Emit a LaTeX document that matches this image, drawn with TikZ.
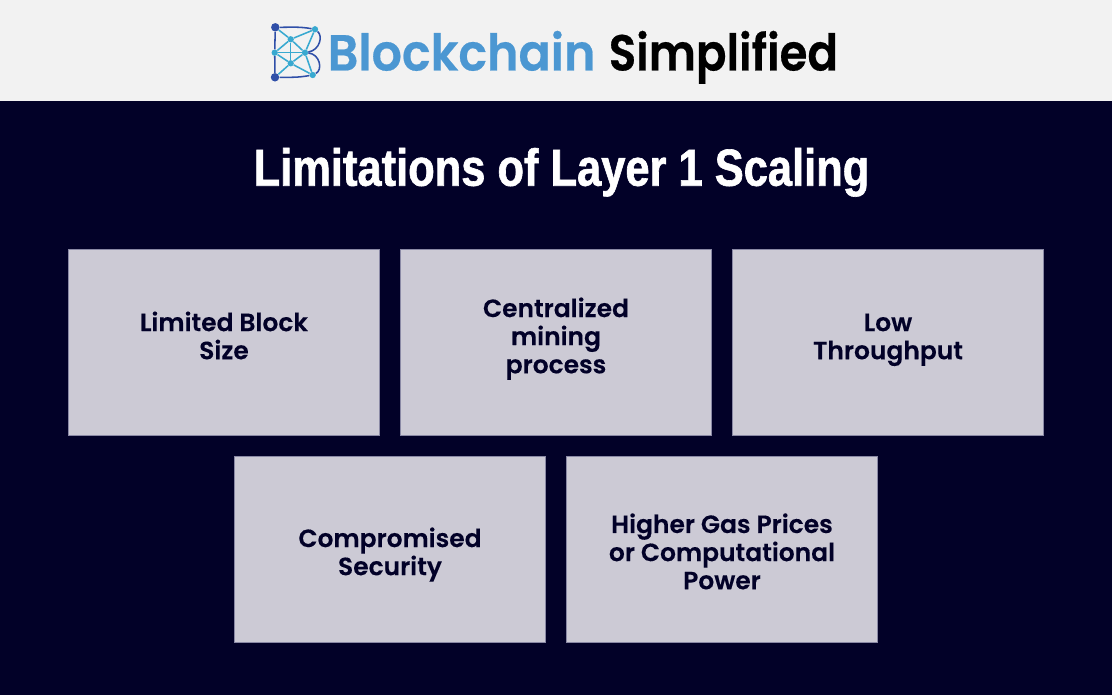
\documentclass[tikz,border=0pt]{standalone}
\usepackage{fontspec}
\setmainfont[FakeBold=0.25]{Poppins SemiBold}
\newfontfamily\brandfont[FakeStretch=0.94, FakeBold=0.4]{Poppins SemiBold}
\newfontfamily\simplefont[FakeStretch=0.89, FakeBold=0.4]{Poppins SemiBold}
\newfontfamily\headfont[FakeStretch=0.835, BoldFeatures={FakeBold=1.2}]{Liberation Sans}
\usetikzlibrary{positioning}
\definecolor{bgnavy}{HTML}{020128}
\definecolor{headgray}{HTML}{F2F2F2}
\definecolor{boxgray}{HTML}{CCCAD5}
\definecolor{boxedge}{HTML}{8A89A5}
\definecolor{logoblue}{HTML}{4B97D2}
\definecolor{logodark}{HTML}{2F4FA8}
\definecolor{logolight}{HTML}{38A9D0}
\newcommand{\rowonetop}{\rule{0pt}{14pt}}
\newcommand{\rowtwotop}{\rule{0pt}{22.5pt}}
\tikzset{
  infobox/.style={draw=boxedge, line width=0.4pt, fill=boxgray, minimum width=7.78cm, minimum height=4.66cm,
    align=center, text=bgnavy, font=\fontsize{17.75}{20}\selectfont, inner sep=0pt},
  rowone/.style={infobox, execute at end node=\rule[-10.2pt]{0pt}{1pt}},
  rowtwo/.style={infobox, execute at end node=\rule[-6pt]{0pt}{1pt}},
  dot/.style={circle, fill=logolight, inner sep=0pt, minimum size=4.5pt},
  bigdot/.style={circle, fill=logodark, inner sep=0pt, minimum size=6pt},
  link/.style={logolight, line width=1.1pt},
  rim/.style={logodark, line width=1.1pt},
}
\begin{document}
\begin{tikzpicture}[x=0.025cm, y=-0.025cm]
\useasboundingbox (0,0) rectangle (1112,695);
\fill[bgnavy] (0,0) rectangle (1112,695);
\fill[headgray] (0,0) rectangle (1112,101);

\node[font=\brandfont\fontsize{36}{40}\selectfont, text=logoblue, anchor=base west, inner sep=0pt] (brand) at (327.5,70.5) {Blockchain};
\node[font=\simplefont\fontsize{36}{40}\selectfont, text=black, anchor=base west, inner sep=0pt] (simple) at (608.5,70.5) {Simplified};

% logo
\node[bigdot] (tl) at (275.3,27.3) {};
\node[dot] (tr) at (315,29.3) {};
\node[dot] (ml) at (274.7,52.7) {};
\node[bigdot] (bl) at (275,77.3) {};
\node[dot] (br) at (312.7,75) {};
\node[dot] (m1) at (290.7,39.3) {};
\node[dot] (m2) at (305,52.7) {};
\node[dot] (m3) at (290.7,63.3) {};

\draw[rim] (tl) to (ml);
\draw[rim] (ml) to (bl);
\draw[rim] (tl) to[out=0, in=170] (tr);
\draw[rim] (bl) to[out=0, in=190] (br);
\draw[rim] (tr) .. controls (323,36) and (320,50) .. (m2);
\draw[rim] (m2) .. controls (320,54) and (323,70) .. (br);
\draw[link] (tl) to (m1);
\draw[link] (m1) to (tr);
\draw[link] (m1) to (ml);
\draw[link] (m1) to (m3);
\draw[link] (m1) to (m2);
\draw[link] (tr) to (m2);
\draw[link] (ml) to (m2);
\draw[link] (ml) to (m3);
\draw[link] (m2) to (m3);
\draw[link] (m2) to (br);
\draw[link] (m3) to (bl);
\draw[link] (m3) to (br);

\node[font=\headfont\bfseries\fontsize{37}{40}\selectfont, text=white, inner sep=0pt, anchor=base] (title) at (561.5,185.7) {Limitations of Layer 1 Scaling};

\node[rowone] (block) at (224,342.5) {\rowonetop Limited Block\\Size};
\node[rowone] (mining) at (556,342.5) {\rowonetop Centralized\\mining\\process};
\node[rowone] (rate) at (888,342.5) {\rowonetop Low\\Throughput};
\node[rowtwo] (secure) at (390,549.5) {\rowtwotop Compromised\\Security};
\node[rowtwo] (gas) at (722,549.5) {\rowtwotop Higher Gas Prices\\or Computational\\Power};
\end{tikzpicture}
\end{document}
